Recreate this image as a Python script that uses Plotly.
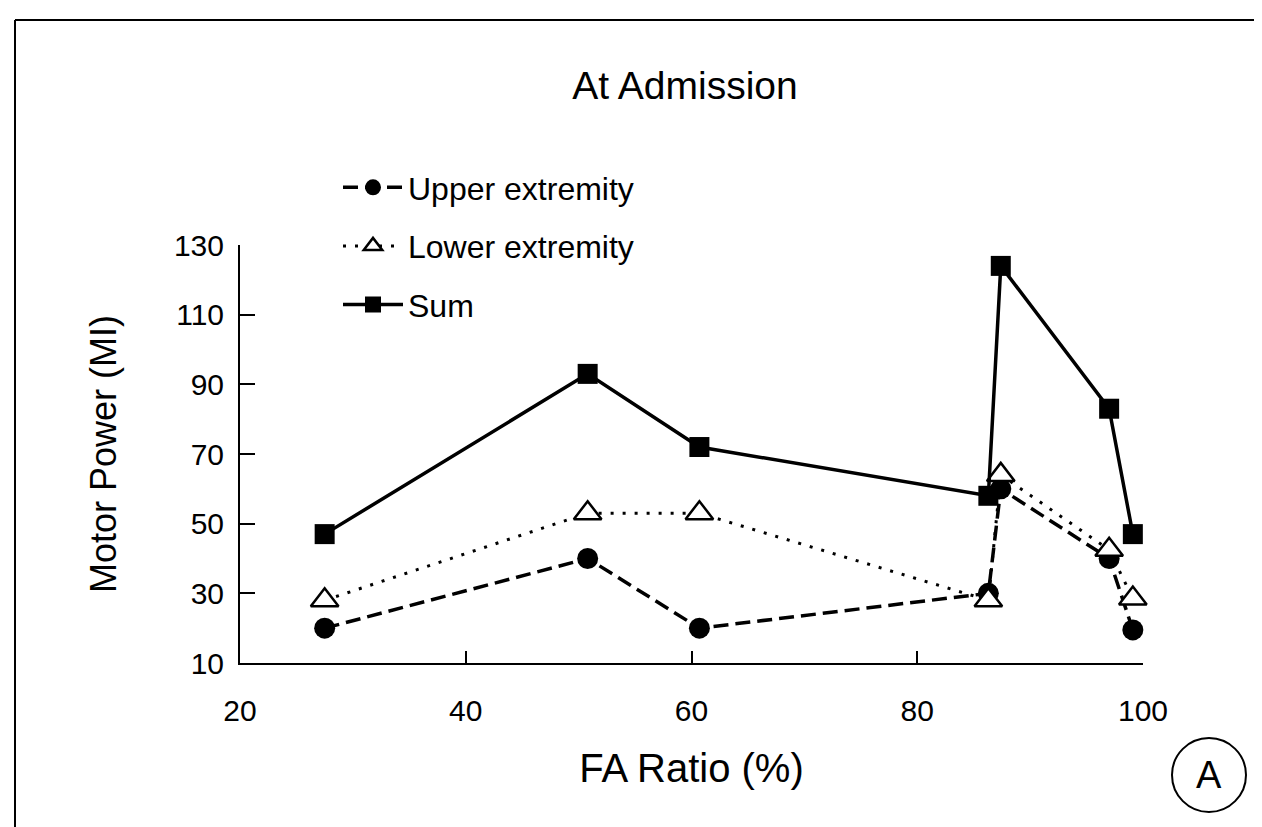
import plotly.graph_objects as go

# Data
fa_ratio = [27.5, 50.8, 60.7, 86.3, 87.4, 97.0, 99.1]
upper = [20, 40, 20, 30, 60, 40, 19.5]
lower = [28, 53, 53, 28, 64, 42.5, 28.5]
total = [47, 93, 72, 58, 124, 83, 47]

x_ticks = [20, 40, 60, 80, 100]
y_ticks = [10, 30, 50, 70, 90, 110, 130]

FONT = "Liberation Sans"

fig = go.Figure()
fig.add_trace(go.Scatter(
    x=fa_ratio, y=upper, mode="lines+markers", name="Upper extremity",
    legendgroup="u", legendrank=1,
    line=dict(color="black", width=3.5, dash="15px,7px"),
    marker=dict(symbol="circle", size=21, color="black"),
    cliponaxis=False,
))
fig.add_trace(go.Scatter(
    x=fa_ratio, y=lower, mode="lines+markers", name="Lower extremity",
    legendgroup="l", legendrank=2,
    line=dict(color="black", width=3, dash="3px,9px"),
    marker=dict(symbol="triangle-up", size=24, color="white",
                line=dict(color="black", width=2.5)),
    cliponaxis=False,
))
fig.add_trace(go.Scatter(
    x=fa_ratio, y=total, mode="lines+markers", name="Sum",
    legendgroup="s", legendrank=3,
    line=dict(color="black", width=3.5),
    marker=dict(symbol="square", size=20, color="black"),
    cliponaxis=False,
))

# the page puts the figure 8px in from the top-left corner
OFF = 8
L, R, T, B = 232, 119, 237, 164
W, H = 1254, 819
pw, ph = W - L - R, H - T - B
PLOT_LEFT = OFF + L          # page px of plot left edge
PLOT_BOTTOM = OFF + H - B    # page px of plot bottom edge


def px_x(px):
    return (px - PLOT_LEFT) / pw


def px_y(py):
    return (PLOT_BOTTOM - py) / ph


shapes = [
    dict(type="line", xref="paper", yref="paper", x0=px_x(15), x1=px_x(1262),
         y0=px_y(20), y1=px_y(20), line=dict(color="black", width=2)),
    dict(type="line", xref="paper", yref="paper", x0=px_x(15), x1=px_x(15),
         y0=px_y(20), y1=px_y(827), line=dict(color="black", width=2)),
    dict(type="circle", xref="paper", yref="paper", x0=px_x(1172), x1=px_x(1246),
         y0=px_y(812), y1=px_y(738), line=dict(color="black", width=2)),
]

fig.update_layout(
    width=W, height=H,
    margin=dict(l=L, r=R, t=T, b=B),
    paper_bgcolor="white", plot_bgcolor="white",
    font=dict(family=FONT, color="black"),
    title=dict(text="At Admission", x=px_x(685), xref="paper", y=1 - (85 - OFF) / H,
               yanchor="middle", xanchor="center",
               font=dict(size=39, family=FONT, color="black")),
    showlegend=True,
    legend=dict(x=px_x(338), y=px_y(160), xanchor="left", yanchor="top",
                font=dict(size=32, family=FONT, color="black"),
                bgcolor="rgba(0,0,0,0)", tracegroupgap=14, itemwidth=60,
                traceorder="grouped"),
    shapes=shapes,
    annotations=[dict(text="A", xref="paper", yref="paper", x=px_x(1209), y=px_y(775),
                      xanchor="center", yanchor="middle",
                      showarrow=False, font=dict(size=38, family=FONT, color="black"))],
)

fig.update_xaxes(
    range=[20, 100], tickvals=x_ticks, ticktext=[str(v) for v in x_ticks],
    showline=True, linecolor="black", linewidth=2, mirror=False,
    ticks="inside", ticklen=12, tickwidth=1.5, tickcolor="black",
    showgrid=False, zeroline=False,
    tickfont=dict(size=30, family=FONT, color="black"), ticklabelstandoff=20,
    title=dict(text="FA Ratio (%)", font=dict(size=40, family=FONT, color="black"), standoff=28),
)
fig.update_yaxes(
    range=[10, 130], tickvals=y_ticks, ticktext=[str(v) for v in y_ticks],
    showline=True, linecolor="black", linewidth=2, mirror=False,
    ticks="inside", ticklen=15, tickwidth=1.5, tickcolor="black",
    showgrid=False, zeroline=False,
    tickfont=dict(size=30, family=FONT, color="black"), ticklabelstandoff=8,
    title=dict(text="Motor Power (MI)", font=dict(size=36, family=FONT, color="black"), standoff=46),
)

fig.write_html("out.html")
